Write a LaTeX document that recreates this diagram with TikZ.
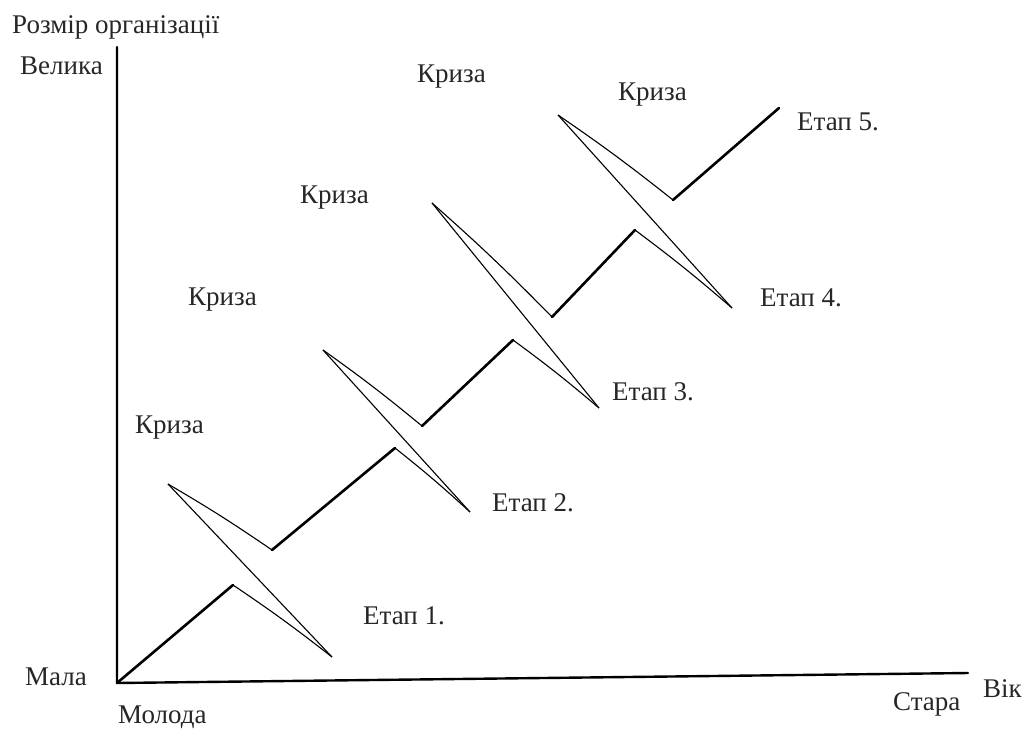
\documentclass[tikz,border=0pt]{standalone}
\usepackage{fontspec}
\setmainfont{Liberation Serif}
\begin{document}
\begin{tikzpicture}[x=1pt,y=-1pt,
  lbl/.style={anchor=base west,inner sep=0pt,font=\fontsize{27}{31}\selectfont,text=black!85},
  axis/.style={line width=2.4pt,line cap=round},
  stage/.style={line width=2.6pt,line cap=round},
  blade/.style={line width=1.1pt,line join=round}]
\useasboundingbox (0,0) rectangle (1025,729);

% axes
\coordinate (O) at (117,683);
\coordinate (ytop) at (117,47);
\coordinate (xend) at (968,673);
\draw[axis] (ytop) -- (O) -- (xend);

% corners of the growth line: a = end of a stage, b = start of the next one
\coordinate (c1a) at (233,585); \coordinate (c1b) at (272,550);
\coordinate (c2a) at (395,448); \coordinate (c2b) at (422,426);
\coordinate (c3a) at (513,340); \coordinate (c3b) at (552,317);
\coordinate (c4a) at (635,230); \coordinate (c4b) at (673,200);
\coordinate (s5) at (779,108);

% blade tips of each crisis
\coordinate (t1a) at (168,484); \coordinate (t1b) at (332,657);
\coordinate (t2a) at (323,350); \coordinate (t2b) at (470,512);
\coordinate (t3a) at (432,203); \coordinate (t3b) at (599,408);
\coordinate (t4a) at (558,115); \coordinate (t4b) at (732,308);

% stages of growth
\draw[stage] (O) -- (c1a);
\draw[stage] (c1b) -- (c2a);
\draw[stage] (c2b) -- (c3a);
\draw[stage] (c3b) -- (c4a);
\draw[stage] (c4b) -- (s5);

% crises: two thin blades sharing one straight edge
\foreach \i in {1,2,3,4}{
  \draw[blade] (t\i a) -- (t\i b);
  \draw[blade] (t\i a) to[bend left=2] (c\i b);
  \draw[blade] (c\i a) to[bend left=2] (t\i b);
}

% axis labels
\node[lbl] (ytitle) at (12,33) {Розмір організації};
\node[lbl] (big) at (20,74) {Велика};
\node[lbl] (small) at (25,685) {Мала};
\node[lbl] (young) at (118,723) {Молода};
\node[lbl] (old) at (893,710) {Стара};
\node[lbl] (age) at (983,697) {Вік};

% crisis labels
\node[lbl] (k1) at (135,433) {Криза};
\node[lbl] (k2) at (188,305) {Криза};
\node[lbl] (k3) at (300,203) {Криза};
\node[lbl] (k4) at (417,82) {Криза};
\node[lbl] (k5) at (618,100) {Криза};

% stage labels
\node[lbl] (e1) at (363,624) {Етап 1.};
\node[lbl] (e2) at (492,511) {Етап 2.};
\node[lbl] (e3) at (612,400) {Етап 3.};
\node[lbl] (e4) at (760,306) {Етап 4.};
\node[lbl] (e5) at (797,130) {Етап 5.};
\end{tikzpicture}
\end{document}
